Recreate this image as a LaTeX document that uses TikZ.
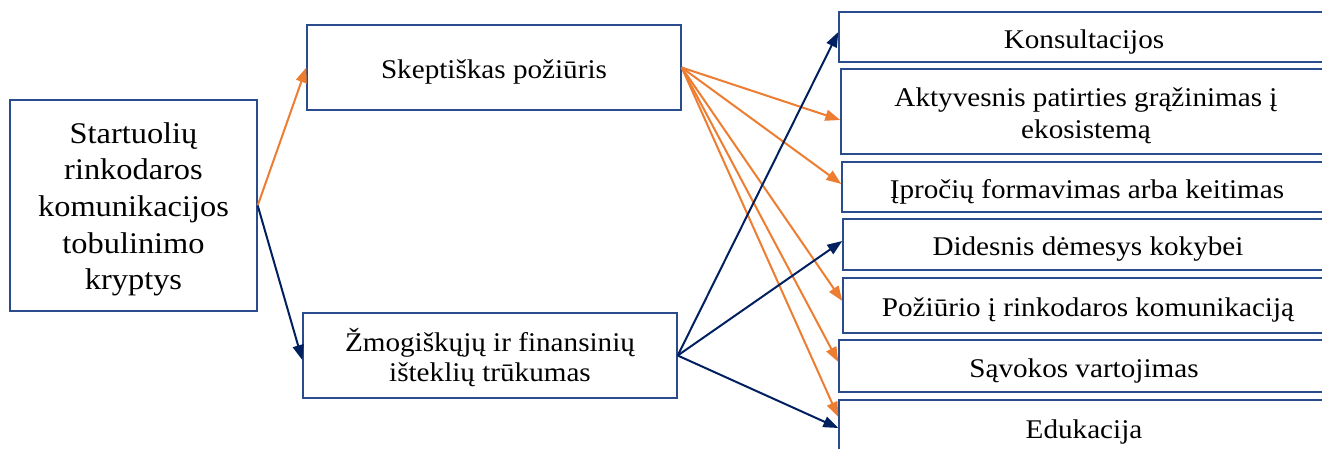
\documentclass[tikz,border=0pt]{standalone}
\usepackage{fontspec}
\setmainfont{Liberation Serif}[FakeStretch=1.08]
\usetikzlibrary{arrows.meta}
\definecolor{boxline}{HTML}{2B4C8C}
\definecolor{warm}{HTML}{ED7D31}
\definecolor{navy}{HTML}{002060}
\begin{document}
\begin{tikzpicture}[x=1pt,y=-1pt,
  box/.style={draw=boxline, line width=1.4pt, inner sep=0pt, align=center,
    text height=25pt, text depth=3pt,
    font=\fontsize{27}{32}\selectfont},
  rbox/.style={box, minimum width=490pt},
  warmarrow/.style={draw=warm, line width=2pt, -{Triangle[length=15pt,width=11pt]}},
  navyarrow/.style={draw=navy, line width=2pt, -{Triangle[length=15pt,width=11pt]}}]
\useasboundingbox (0,0) rectangle (1322,448);
\clip (0,0) rectangle (1322,448);

% source and intermediate boxes (text height sets where the last line sits)
\node[box, minimum width=247pt, minimum height=211pt, text height=171.8pt,
  font=\fontsize{30}{36.7}\selectfont] (L) at (133.5,205.5)
  {Startuolių\\rinkodaros\\komunikacijos\\tobulinimo\\kryptys};
\node[box, minimum width=374pt, minimum height=85pt] (S) at (494,67.5)
  {Skeptiškas požiūris};
\node[box, minimum width=374pt, minimum height=85pt, text height=55.5pt,
  font=\fontsize{27}{30.5}\selectfont] (Z) at (490,355.5)
  {Žmogiškųjų ir finansinių\\išteklių trūkumas};

% target boxes (running past the right edge)
\node[rbox, minimum height=50pt] (K) at (1084,37) {Konsultacijos};
\node[rbox, minimum height=85pt, text height=57pt] (A) at (1086,111.5)
  {Aktyvesnis patirties grąžinimas į\\ekosistemą};
\node[rbox, minimum height=50pt] (I) at (1087,187) {Įpročių formavimas arba keitimas};
\node[rbox, minimum height=51pt] (D) at (1088,244.5) {Didesnis dėmesys kokybei};
\node[rbox, minimum height=55pt] (P) at (1088,305.5) {Požiūrio į rinkodaros komunikaciją};
\node[rbox, minimum height=52pt] (V) at (1084,366) {Sąvokos vartojimas};
\node[rbox, minimum height=54pt] (E) at (1084,427) {Edukacija};

% connectors
\draw[warmarrow] (L.east) -- (S.west);
\draw[navyarrow] (L.east) -- ([yshift=-4.5pt]Z.west);

\draw[warmarrow] (S.east) -- ([yshift=-8.5pt]A.west);
\draw[warmarrow] (S.east) -- ([yshift=3pt]I.west);
\draw[warmarrow] (S.east) -- ([yshift=4.5pt]P.west);
\draw[warmarrow] (S.east) -- ([yshift=4pt]V.west);
\draw[warmarrow] (S.east) -- ([yshift=10pt]E.west);

\draw[navyarrow] (Z.east) -- ([yshift=5pt]K.west);
\draw[navyarrow] (Z.east) -- ([yshift=3.5pt]D.west);
\draw[navyarrow] (Z.east) -- ([yshift=-1pt]E.west);
\end{tikzpicture}
\end{document}
